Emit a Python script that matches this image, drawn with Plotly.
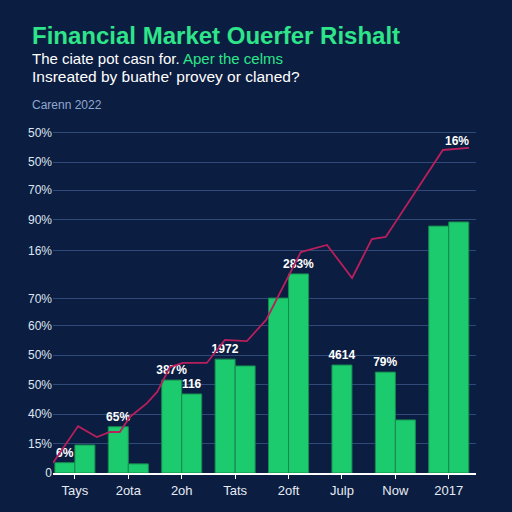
import plotly.graph_objects as go

categories = ["Tays", "2ota", "2oh", "Tats", "2oft", "Julp", "Now", "2017"]
series_a = [0.35, 1.57, 3.15, 3.86, 5.93, None, 3.42, 8.37]
series_b = [0.95, 0.31, 2.68, 3.63, 6.75, None, 1.80, 8.51]
single_x = [5]
single_vals = [3.66]
labels_a = ["6%", "65%", "387%", "1972", "", "", "79%", ""]
labels_b = ["", "", "116", "", "283%", "", "", ""]
labels_single = ["4614"]

line_x = [-0.41, 0.06, 0.41, 0.66, 0.84, 1.03, 1.35, 1.54, 1.78, 2.02, 2.47, 2.81,
          3.22, 3.58, 4.23, 4.55, 4.72, 5.19, 5.56, 5.82, 6.89, 7.38]
line_y = [0.34, 1.59, 1.22, 1.39, 1.39, 1.90, 2.37, 2.75, 3.59, 3.73, 3.73, 4.51,
          4.47, 5.19, 7.49, 7.63, 7.73, 6.61, 7.93, 8.0, 10.95, 11.02]
line_labels = [""] * (len(line_x) - 1) + ["16%"]

y_tickvals = [0, 1, 2, 3, 4, 5, 5.9, 7.53, 8.58, 9.59, 10.54, 11.53]
y_ticktext = ["0", "15%", "40%", "50%", "50%", "60%", "70%", "16%", "90%", "70%", "50%", "50%"]

GREEN = "#1ccb6e"
EDGE = "#178a4f"
BG = "#0b1d40"
W = 0.375
LABEL_FONT = dict(color="white", size=12, family="Liberation Sans", weight="bold")

fig = go.Figure()
fig.add_trace(go.Bar(x=list(range(len(categories))), y=series_a, width=W, offset=-W,
                     marker=dict(color=GREEN, line=dict(color=EDGE, width=1)),
                     text=labels_a, textposition="outside", cliponaxis=False, constraintext="none",
                     textfont=LABEL_FONT, showlegend=False))
fig.add_trace(go.Bar(x=list(range(len(categories))), y=series_b, width=W, offset=0,
                     marker=dict(color=GREEN, line=dict(color=EDGE, width=1)),
                     text=labels_b, textposition="outside", cliponaxis=False, constraintext="none",
                     textfont=LABEL_FONT, showlegend=False))
fig.add_trace(go.Bar(x=single_x, y=single_vals, width=W, offset=-W / 2,
                     marker=dict(color=GREEN, line=dict(color=EDGE, width=1)),
                     text=labels_single, textposition="outside", cliponaxis=False, constraintext="none",
                     textfont=LABEL_FONT, showlegend=False))
fig.add_trace(go.Scatter(x=line_x, y=line_y, mode="lines+text", text=line_labels,
                         textposition="top left", cliponaxis=False,
                         textfont=LABEL_FONT,
                         line=dict(color="#b81f5c", width=1.8), showlegend=False))

L, R, T, B = 53, 36, 119, 39
fig.update_layout(
    width=512, height=512,
    margin=dict(l=L, r=R, t=T, b=B),
    paper_bgcolor=BG, plot_bgcolor=BG,
    barmode="overlay",
    font=dict(family="Liberation Sans", color="white"),
    xaxis=dict(range=[-0.41, 7.51], tickvals=list(range(len(categories))), ticktext=categories,
               showgrid=False, zeroline=False, showline=True, linecolor="white", linewidth=2,
               ticks="outside", ticklen=4, tickcolor="white",
               tickfont=dict(size=13, color="#e6ecf5")),
    yaxis=dict(range=[0, 12], tickvals=y_tickvals, ticktext=y_ticktext,
               showgrid=True, gridcolor="#2f4a78", gridwidth=1, zeroline=False,
               showline=False, ticks="", tickfont=dict(size=12, color="#dfe6f0")),
)

texts = [
    ("<b>Financial Market Ouerfer Rishalt</b>", 30, 20, 24, "#2ee58a"),
    ("The ciate pot casn for. <span style='color:#2ee58a'>Aper the celms</span>", 30, 48, 15, "white"),
    ("Insreated by ɓuathe' provey or claned?", 30, 66, 15.5, "white"),
    ("Carenn 2022", 30, 96, 12, "#8fa8cf"),
]
for txt, px_x, px_y, size, color in texts:
    fig.add_annotation(text=txt, xref="paper", yref="paper",
                       x=(px_x - L) / (512 - L - R), y=1 + (T - px_y) / (512 - T - B),
                       showarrow=False, xanchor="left", yanchor="top",
                       font=dict(size=size, color=color))

fig.write_html("out.html", config={"displayModeBar": False},
               post_script="document.body.style.margin='0';document.body.style.background='%s';" % BG)
